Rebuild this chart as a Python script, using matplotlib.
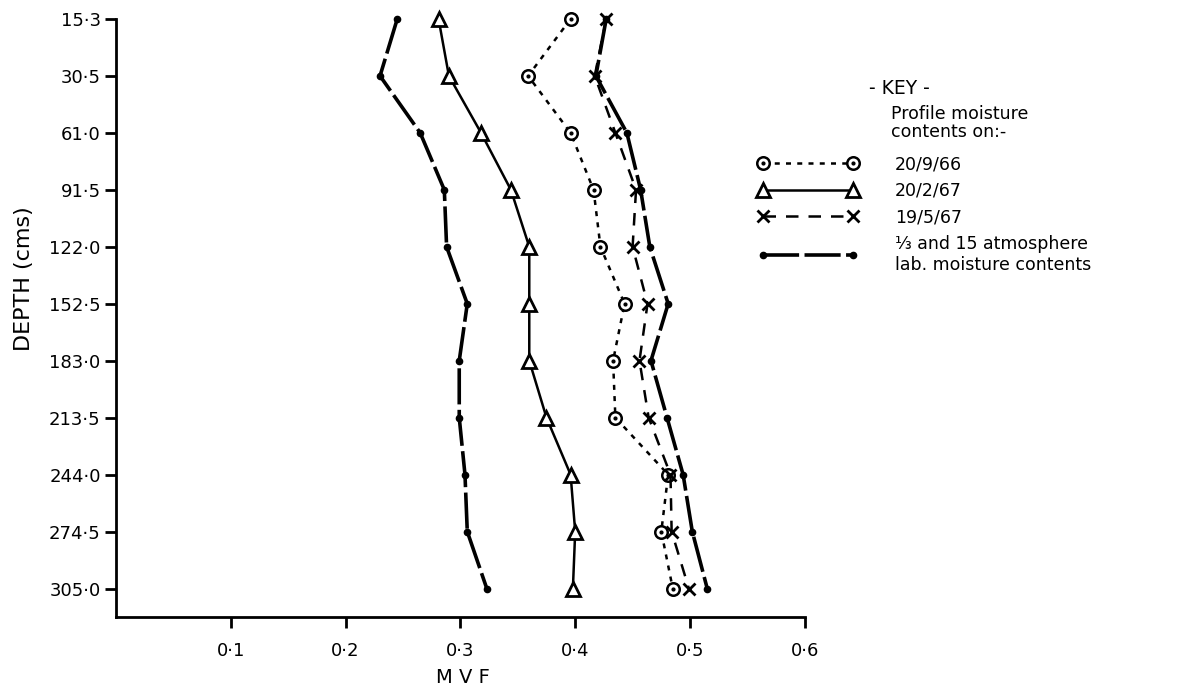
import matplotlib
matplotlib.use("Agg")
import matplotlib.pyplot as plt
from matplotlib.legend_handler import HandlerTuple

# depth of each sampling level (cm), plotted at equal spacing
depths = ["15·3", "30·5", "61·0", "91·5", "122·0", "152·5",
          "183·0", "213·5", "244·0", "274·5", "305·0"]
mvf_ticks = [0.1, 0.2, 0.3, 0.4, 0.5, 0.6]
mvf_tick_labels = ["0·1", "0·2", "0·3", "0·4", "0·5", "0·6"]

# field profile moisture contents (MVF)
mvf_sep66 = [0.396, 0.359, 0.396, 0.416, 0.422, 0.443, 0.433, 0.435, 0.481, 0.475, 0.485]
mvf_feb67 = [0.281, 0.290, 0.318, 0.344, 0.360, 0.360, 0.360, 0.375, 0.396, 0.400, 0.398]
mvf_may67 = [0.427, 0.417, 0.435, 0.453, 0.450, 0.463, 0.456, 0.464, 0.483, 0.484, 0.499]

# laboratory moisture contents at 1/3 and 15 atmospheres
mvf_lab_third = [0.427, 0.418, 0.445, 0.457, 0.465, 0.481, 0.466, 0.480, 0.494, 0.502, 0.515]
mvf_lab_15 = [0.245, 0.230, 0.265, 0.286, 0.288, 0.306, 0.299, 0.299, 0.304, 0.306, 0.323]

plt.rcParams['font.family'] = ['DejaVu Sans']

fig = plt.figure(figsize=(12.03, 6.9), dpi=100)
ax = fig.add_axes([0.0964, 0.1058, 0.5726, 0.8667])

levels = list(range(len(depths)))

lab_style = dict(color='black', lw=2.6, ls=(0, (10, 1.5)), marker='o', ms=4.5, clip_on=False)
ax.plot(mvf_lab_15, levels, **lab_style)
lab_line, = ax.plot(mvf_lab_third, levels, **lab_style)

sep_line, = ax.plot(mvf_sep66, levels, color='black', lw=1.8, ls=(0, (2, 2.5)),
                    marker='o', ms=9, mfc='white', mec='black', mew=1.8, clip_on=False)
sep_dots, = ax.plot(mvf_sep66, levels, ls='none', marker='o', ms=2, color='black',
                    clip_on=False)

feb_line, = ax.plot(mvf_feb67, levels, color='black', lw=1.8, ls='-',
                    marker='^', ms=10, mfc='white', mec='black', mew=2, clip_on=False)

may_line, = ax.plot(mvf_may67, levels, color='black', lw=1.8, ls=(0, (5, 4)),
                    marker='x', ms=8.5, mew=2, clip_on=False)

ax.set_xlim(0, 0.6)
ax.set_ylim(10.5, 0)
ax.set_yticks(levels)
ax.set_yticklabels(depths)
ax.set_xticks(mvf_ticks)
ax.set_xticklabels(mvf_tick_labels)

for side in ['top', 'right']:
    ax.spines[side].set_visible(False)
for side in ['left', 'bottom']:
    ax.spines[side].set_linewidth(2)
ax.tick_params(axis='both', direction='out', length=8, width=2, labelsize=13, pad=3)
ax.tick_params(axis='x', pad=10)

fig.text(0.385, 0.004, "M V F", fontsize=14, ha='center', va='bottom')
fig.text(0.012, 0.596, "DEPTH (cms)", fontsize=16, rotation=90, ha='left', va='center')

# key
fig.text(0.722, 0.872, "- KEY -", fontsize=13.5, ha='left', va='center')
fig.text(0.741, 0.822, "Profile moisture\ncontents on:-", fontsize=12.5,
         ha='left', va='center', linespacing=1.0)

handles = [(sep_line, sep_dots), feb_line, may_line, lab_line]
labels = ["20/9/66", "20/2/67", "19/5/67",
          "⅓ and 15 atmosphere\nlab. moisture contents"]
fig.legend(handles, labels, loc='upper left', bbox_to_anchor=(0.617, 0.798),
           frameon=False, numpoints=2, handlelength=5.8, handletextpad=2.1,
           labelspacing=0.5, fontsize=12.5,
           handler_map={tuple: HandlerTuple(ndivide=1)})

fig.savefig("out.png", dpi=100)
